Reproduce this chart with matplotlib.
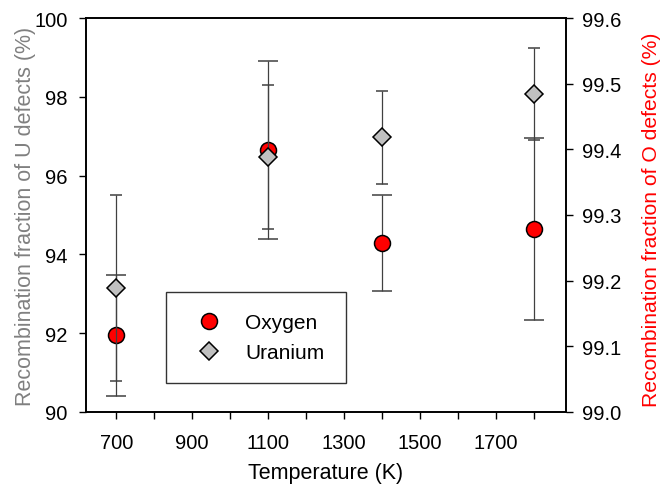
import matplotlib
matplotlib.use("Agg")
import matplotlib.pyplot as plt

plt.rcParams["font.family"] = ["Liberation Sans", "DejaVu Sans"]

# Recombination data
temperature = [700, 1100, 1400, 1800]
uranium = [93.14, 96.47, 96.97, 98.07]          # left axis (%)
uranium_err = [2.36, 1.82, 1.19, 1.17]
oxygen = [99.117, 99.399, 99.257, 99.279]       # right axis (%)
oxygen_err = [0.092, 0.135, 0.073, 0.139]

x_ticks = [700, 800, 900, 1000, 1100, 1200, 1300, 1400, 1500, 1600, 1700, 1800]
x_labels = ["700", "", "900", "", "1100", "", "1300", "", "1500", "", "1700", ""]
left_ticks = [90, 92, 94, 96, 98, 100]
right_ticks = [99.0, 99.1, 99.2, 99.3, 99.4, 99.5, 99.6]

fig = plt.figure(figsize=(6.64, 4.85), dpi=100)
ax = fig.add_axes([0.1295, 0.1485, 0.7229, 0.8123])
ax2 = ax.twinx()

# uranium on the left axis drawn above the oxygen axis
ax.set_zorder(ax2.get_zorder() + 1)
ax.patch.set_visible(False)

err_kw = dict(ecolor="#404040", elinewidth=0.9, capthick=0.9, linestyle="none")

o_eb = ax2.errorbar(temperature, oxygen, yerr=oxygen_err, fmt="o", ms=11.5,
                    mfc="#ff0000", mec="black", mew=1.1, capsize=7.2, **err_kw)
u_eb = ax.errorbar(temperature, uranium, yerr=uranium_err, fmt="D", ms=9.3,
                   mfc="#c0c0c0", mec="black", mew=1.1, capsize=4.3, **err_kw)

ax.set_xlim(620, 1885)
ax.set_ylim(90, 100)
ax2.set_ylim(99.0, 99.6)

ax.set_xticks(x_ticks)
ax.set_xticklabels(x_labels)
ax.set_yticks(left_ticks)
ax.set_yticklabels([str(v) for v in left_ticks])
ax2.set_yticks(right_ticks)
ax2.set_yticklabels([f"{v:.1f}" for v in right_ticks])

for a in (ax, ax2):
    a.tick_params(direction="out", length=4.8, width=1, labelsize=14.5)
    for sp in a.spines.values():
        sp.set_linewidth(1.2)
        sp.set_color("black")
ax.tick_params(axis="x", pad=10)
ax.tick_params(axis="y", pad=8.5)
ax2.tick_params(axis="y", pad=7)

ax.set_xlabel("Temperature (K)", fontsize=15.5)
ax.xaxis.set_label_coords(0.5, -0.128)
ax.set_ylabel("Recombination fraction of U defects (%)", fontsize=15.5,
              color="#808080")
ax.yaxis.set_label_coords(-0.104, 0.5)
ax2.set_ylabel("Recombination fraction of O defects (%)", fontsize=15.2,
               color="#ff0000")
ax2.yaxis.set_label_coords(1.158, 0.49)

leg = ax.legend([o_eb[0], u_eb[0]], ["Oxygen", "Uranium"],
                loc="lower left", bbox_to_anchor=(0.166, 0.073),
                fontsize=15, frameon=True, fancybox=False,
                borderpad=1.0, labelspacing=0.55, handletextpad=0.63,
                borderaxespad=0, handlelength=2.2)
leg.get_frame().set_edgecolor("black")
leg.get_frame().set_linewidth(1.0)

fig.savefig("out.png", dpi=100)
